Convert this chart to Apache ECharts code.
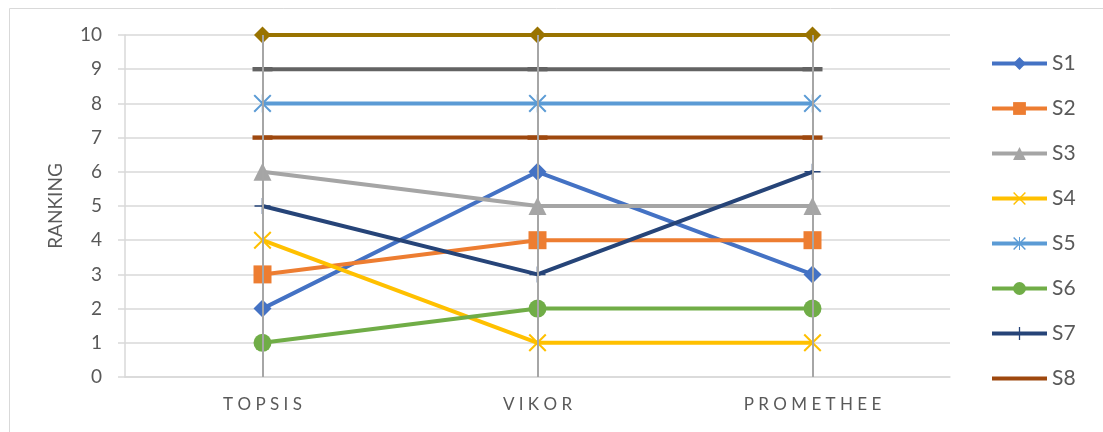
<!DOCTYPE html>
<html>
<head>
<meta charset="utf-8">
<script src="https://cdn.jsdelivr.net/npm/echarts@6/dist/echarts.min.js"></script>
<style>
  html, body { margin: 0; padding: 0; background: #ffffff; }
  #chart { width: 1103px; height: 432px; }
</style>
</head>
<body>
<div id="chart"></div>
<script>
// Ranking of ten alternatives under three MCDM methods
const methods = ['TOPSIS', 'VIKOR', 'PROMETHEE'];
const yTicks = [0, 1, 2, 3, 4, 5, 6, 7, 8, 9, 10];

const s1 = [2, 6, 3];
const s2 = [3, 4, 4];
const s3 = [6, 5, 5];
const s4 = [4, 1, 1];
const s5 = [8, 8, 8];
const s6 = [1, 2, 2];
const s7 = [5, 3, 6];
const s8 = [7, 7, 7];
const s9 = [9, 9, 9];
const s10 = [10, 10, 10];

const legendNames = ['S1', 'S2', 'S3', 'S4', 'S5', 'S6', 'S7', 'S8'];

// marker shapes drawn as filled outlines
const X_MARK = 'path://M0,8 L8,0 L50,42 L92,0 L100,8 L58,50 L100,92 L92,100 L50,58 L8,100 L0,92 L42,50 Z';
const STAR_MARK = X_MARK + ' M46,0 L54,0 L54,100 L46,100 Z';
const PLUS_MARK = 'path://M45,0 L55,0 L55,45 L100,45 L100,55 L55,55 L55,100 L45,100 L45,55 L0,55 L0,45 L45,45 Z';
const DASH_MARK = 'path://M0,0 L100,0 L100,22 L0,22 Z';
// legend swatch for dash-marker series: just the line itself
const BAR_ICON = 'path://M0,0 L55,0 L55,4 L0,4 Z';

const FONT = 'Lato, "Liberation Sans", sans-serif';
const TEXT = '#595959';

function lineSeries(name, data, color, symbol, size, keepAspect) {
  return {
    name: name,
    type: 'line',
    data: data,
    z: 3,
    symbol: symbol,
    symbolSize: size,
    symbolKeepAspect: !!keepAspect,
    showSymbol: true,
    lineStyle: { color: color, width: 4 },
    itemStyle: { color: color, borderWidth: 0 },
    emphasis: { disabled: true },
    animation: false
  };
}

const chart = echarts.init(document.getElementById('chart'), null, { renderer: 'canvas' });

chart.setOption({
  backgroundColor: '#ffffff',
  animation: false,
  textStyle: { fontFamily: FONT },
  graphic: [{
    type: 'rect',
    left: 7, top: 6,
    shape: { width: 1120, height: 440 },
    style: { fill: 'none', stroke: '#d9d9d9', lineWidth: 1 },
    silent: true
  }],
  grid: { left: 125, right: 153, top: 35, bottom: 55 },
  legend: {
    data: legendNames.map(function (n) {
      return n === 'S8' ? { name: n, icon: BAR_ICON } : { name: n };
    }),
    orient: 'vertical',
    left: 990,
    top: 53,
    padding: 0,
    itemWidth: 55,
    itemHeight: 16,
    itemGap: 24,
    lineStyle: { width: 4 },
    textStyle: { color: TEXT, fontSize: 21, fontFamily: FONT }
  },
  xAxis: {
    type: 'category',
    data: methods,
    boundaryGap: true,
    axisLine: { show: true, lineStyle: { color: '#d9d9d9', width: 1.5 } },
    axisTick: { show: false },
    splitLine: { show: false },
    axisLabel: {
      color: TEXT,
      fontSize: 17,
      fontFamily: FONT,
      margin: 19,
      formatter: function (v) { return v.split('').join(' '); }
    }
  },
  yAxis: {
    type: 'value',
    min: yTicks[0],
    max: yTicks[yTicks.length - 1],
    interval: 1,
    name: 'RANKING',
    nameLocation: 'middle',
    nameGap: 60,
    nameTextStyle: { color: TEXT, fontSize: 19, fontFamily: FONT },
    axisLine: { show: true, lineStyle: { color: '#d9d9d9', width: 1.5 } },
    axisTick: { show: true, length: 7, lineStyle: { color: '#d9d9d9', width: 1.5 } },
    splitLine: { show: true, lineStyle: { color: '#d9d9d9', width: 1.5 } },
    axisLabel: { color: TEXT, fontSize: 19, fontFamily: FONT, margin: 23 }
  },
  series: [
    {
      // vertical drop lines at each method
      name: 'drop',
      type: 'line',
      data: methods.map(function () { return null; }),
      z: 1,
      silent: true,
      markLine: {
        silent: true,
        symbol: ['none', 'none'],
        label: { show: false },
        lineStyle: { color: '#a6a6a6', width: 2, type: 'solid' },
        emphasis: { disabled: true },
        data: methods.map(function (m) { return { xAxis: m }; })
      }
    },
    lineSeries('S1', s1, '#4472C4', 'diamond', 18),
    lineSeries('S2', s2, '#ED7D31', 'rect', 18),
    lineSeries('S3', s3, '#A5A5A5', 'triangle', 18),
    lineSeries('S4', s4, '#FFC000', X_MARK, 18),
    lineSeries('S5', s5, '#5B9BD5', STAR_MARK, 18),
    lineSeries('S6', s6, '#70AD47', 'circle', 18),
    lineSeries('S7', s7, '#264478', PLUS_MARK, 16),
    lineSeries('S8', s8, '#9E480E', DASH_MARK, 20, true),
    lineSeries('S9', s9, '#636363', DASH_MARK, 20, true),
    lineSeries('S10', s10, '#997300', 'diamond', 17)
  ]
});
</script>
</body>
</html>
